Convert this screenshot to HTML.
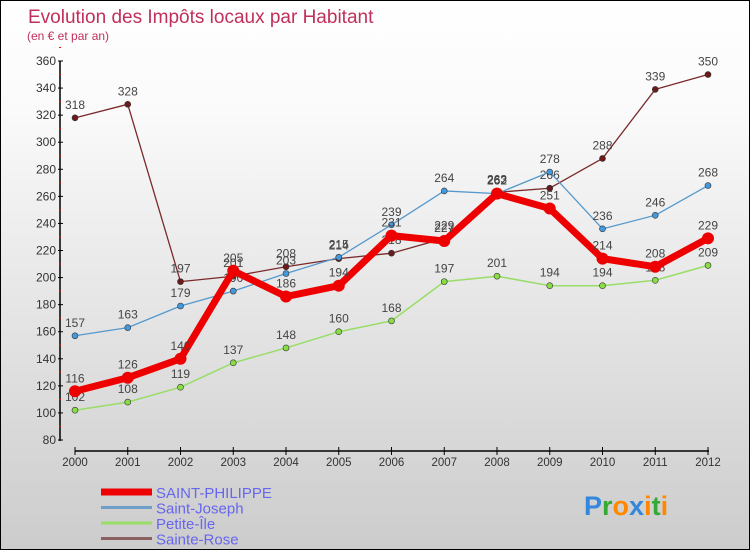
<!DOCTYPE html>
<html><head><meta charset="utf-8"><style>
body{margin:0}
#c{width:748px;height:548px;border:1px solid #000;background:linear-gradient(#fff,#fafafa 20%,#ccc);position:relative;font-family:"Liberation Sans",sans-serif;overflow:hidden}
</style></head><body>
<div id="c">
<svg width="748" height="548" id="s"></svg>
</div>
<script>
const years=["2000","2001","2002","2003","2004","2005","2006","2007","2008","2009","2010","2011","2012"];
const yTicks=[80,100,120,140,160,180,200,220,240,260,280,300,320,340,360];
const stPhilippe=[116,126,140,205,186,194,231,227,262,251,214,208,229];
const stJoseph=[157,163,179,190,203,215,239,264,262,278,236,246,268];
const petiteIle=[102,108,119,137,148,160,168,197,201,194,194,198,209];
const steRose=[318,328,197,201,208,214,218,229,263,266,288,339,350];
const names=["SAINT-PHILIPPE","Saint-Joseph","Petite-Île","Sainte-Rose"];
const s=document.getElementById('s');const NS="http://www.w3.org/2000/svg";
function X(i){return 74+i*52.75;}
function Y(v){return 439-(v-80)*(379/280);}
function el(t,a,p){const e=document.createElementNS(NS,t);for(const k in a)e.setAttribute(k,a[k]);(p||s).appendChild(e);return e;}
let t=el('text',{x:27,y:22,fill:'#c0305a','font-size':19});t.textContent="Evolution des Impôts locaux par Habitant";

t=el('text',{x:26,y:39,fill:'#c0305a','font-size':12});t.textContent="(en € et par an)";

let a=el('line',{x1:59,y1:60,x2:59,y2:440,stroke:'#000','stroke-width':1.5});

yTicks.forEach(v=>{el('line',{x1:57,x2:62,y1:Y(v),y2:Y(v),stroke:'#000'});
 el('line',{x1:58,x2:60,y1:Y(v+10),y2:Y(v+10),stroke:'red'});
 const l=el('text',{x:55,y:Y(v)+4,'text-anchor':'end','font-size':12,fill:'#333'});l.textContent=v;
 });
a=el('line',{x1:74,y1:450,x2:708,y2:450,stroke:'#000','stroke-width':1.5});

years.forEach((y,i)=>{el('line',{x1:X(i),x2:X(i),y1:446,y2:454,stroke:'#000'});
 const l=el('text',{x:X(i),y:465,'text-anchor':'middle','font-size':11.5,fill:'#333'});l.textContent=y;
 });
function series(d,col,w,r,pc,nm,lab){
 const g=el('g',{});
 el('polyline',{points:d.map((v,i)=>X(i)+','+Y(v)).join(' '),fill:'none',stroke:col,'stroke-width':w,'stroke-linejoin':'round'},g);
 d.forEach((v,i)=>{const c=el('circle',{cx:X(i),cy:Y(v),r:r,fill:pc,stroke:'#333','stroke-width':r>4?0:0.6},g);
  
  const l=el('text',{x:X(i),y:Y(v)-9,'text-anchor':'middle','font-size':12,fill:'#444'},g);l.textContent=v;});
}
series(steRose,'#7a2a2a',1.3,3,'#6a1a1a','sainte-rose-series');
series(stJoseph,'#5599cc',1.3,3,'#4499dd','saint-joseph-series');
series(petiteIle,'#99dd66',1.5,3,'#88dd44','petite-ile-series');
series(stPhilippe,'#ee0000',7,6,'#ee0000','saint-philippe-series');
const lc=['#ee0000','#6f9fc8','#99dd66','#8a6060'],lw=[7,3,3,3];
names.forEach((n,i)=>{const y=491+i*15.5;
 const g=el('g',{});
 el('line',{x1:100,x2:151,y1:y,y2:y,stroke:lc[i],'stroke-width':lw[i]},g);
 const l=el('text',{x:155,y:y+6,'font-size':15,fill:'#6666ee'},g);l.textContent=n;});
const lg=el('text',{x:583,y:514,'font-size':27,'font-weight':'bold'});

[['P','#3388dd'],['r','#33aa33'],['o','#ff8800'],['x','#3388dd'],['i','#ff8800'],['t','#33aa33'],['i','#ff8800']].forEach(([c,f])=>{const ts=el('tspan',{fill:f},lg);ts.textContent=c;});
</script>
</body></html>
